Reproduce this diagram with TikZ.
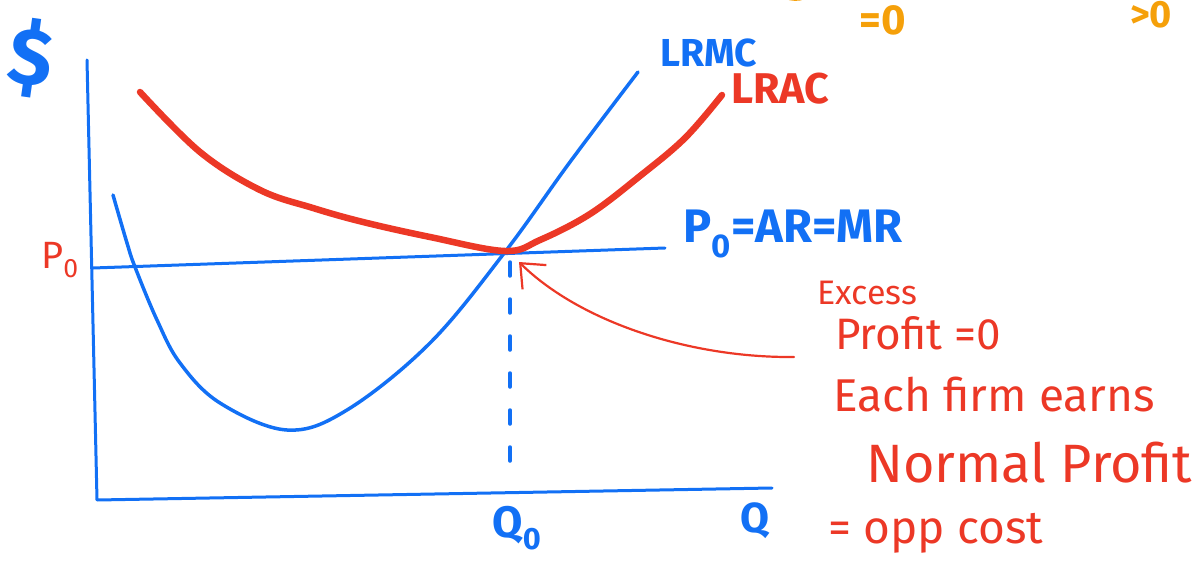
\documentclass[tikz,border=0pt]{standalone}
\usepackage{fontspec}
\setmainfont{Fira Sans}
\usetikzlibrary{arrows.meta}
\definecolor{penblue}{RGB}{18,112,245}
\definecolor{penred}{RGB}{236,56,38}
\definecolor{penorange}{RGB}{245,160,10}

\begin{document}
\begin{tikzpicture}[x=1pt, y=-1pt, line cap=round, line join=round,
    bluepen/.style={penblue, line width=3.5pt},
    redpen/.style={penred, line width=6.5pt},
    bluelbl/.style={text=penblue, inner sep=0pt, font=\bfseries},
    redlbl/.style={text=penred, inner sep=0pt, anchor=west}]
  \useasboundingbox (0,0) rectangle (1197,567);
  % axes
  \coordinate (ytop) at (87,60);
  \coordinate (origin) at (97,500);
  \coordinate (xend) at (772,488);
  \draw[bluepen, line width=3pt] (ytop) -- (origin) -- (xend);
  \node[bluelbl, rotate=-8] (dollar) at (31,58) {\fontsize{80}{82}\selectfont\$};
  \node[bluelbl] (qlbl) at (755,521) {\fontsize{42}{44}\selectfont Q};
  % P0 line
  \coordinate (pstart) at (93,268);
  \coordinate (pend) at (665,248);
  \draw[bluepen, line width=3pt] (pstart) -- (pend);
  \node[text=penred, inner sep=0pt] (plbl) at (60,260) {\fontsize{38}{40}\selectfont P\textsubscript{0}};
  \node[bluelbl, anchor=west] (arlbl) at (683,234) {\fontsize{47}{49}\selectfont P\textsubscript{0}=AR=MR};
  % LRMC
  \draw[bluepen] plot[smooth, tension=0.6] coordinates {(113,195) (127,243) (135,267) (157,320)
    (180,363) (220,403) (287,430) (347,410) (430,343) (505,252) (570,162) (638,72)};
  \node[bluelbl, anchor=west] (lrmc) at (660,53) {\fontsize{39}{41}\selectfont LRMC};
  % LRAC
  \draw[redpen] plot[smooth, tension=0.6] coordinates {(140,92) (200,152) (260,190)
    (313,208) (363,222) (430,237) (505,251) (540,240) (590,214) (640,176) (685,138) (722,95)};
  \node[redlbl, font=\bfseries] (lrac) at (731,89) {\fontsize{43}{45}\selectfont LRAC};
  % Q0
  \coordinate (eq) at (510,262);
  \coordinate (qfoot) at (510,482);
  \draw[bluepen, dash pattern=on 14pt off 23pt] (eq) -- (qfoot);
  \node[bluelbl] (q0lbl) at (517,528) {\fontsize{44}{46}\selectfont Q\textsubscript{0}};
  % note
  \coordinate (tail) at (794,357);
  \coordinate (tip) at (519,262);
  \draw[penred, line width=2.2pt, -{Straight Barb[length=20pt, width=34pt]}] (tail) .. controls (690,358) and (580,322) .. (tip);
  \node[redlbl] (excess) at (817,293) {\fontsize{34}{36}\selectfont Excess};
  \node[redlbl] (zero) at (835,333) {\fontsize{44}{46}\selectfont Profit =0};
  \node[redlbl] (earns) at (833,395) {\fontsize{46}{48}\selectfont Each firm earns};
  \node[redlbl] (normal) at (866,463) {\fontsize{54}{56}\selectfont Normal Profit};
  \node[redlbl] (opp) at (828,533) {\fontsize{46}{48}\selectfont = opp cost};
  % cut-off notes at the top
  \draw[penorange, line width=2.5pt] (778,-8) .. controls (786,2) and (804,2) .. (812,-7);
  \node[text=penorange, inner sep=0pt, font=\bfseries] (oa) at (883,20) {\fontsize{42}{44}\selectfont =0};
  \node[text=penorange, inner sep=0pt, font=\bfseries] (ob) at (1151,15) {\fontsize{38}{40}\selectfont >0};
\end{tikzpicture}
\end{document}
